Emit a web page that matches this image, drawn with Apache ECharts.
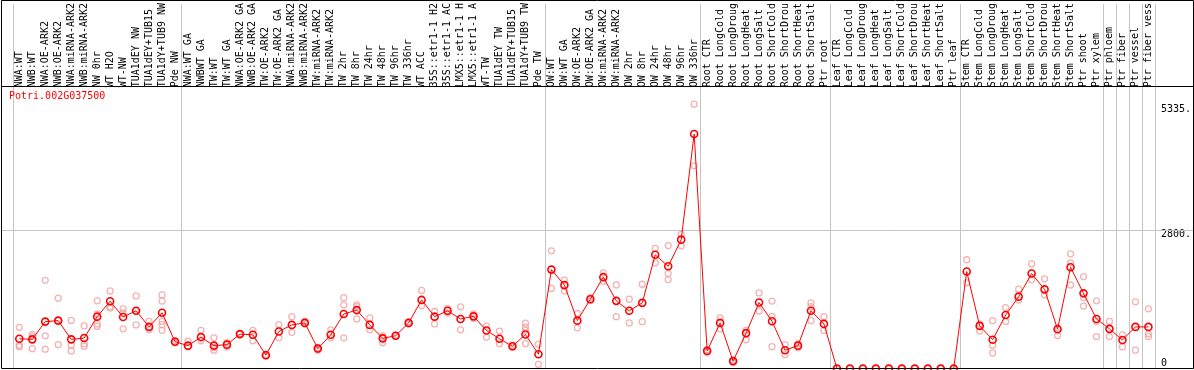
<!DOCTYPE html>
<html>
<head>
<meta charset="utf-8">
<title>Potri.002G037500</title>
<script src="https://cdn.jsdelivr.net/npm/echarts@6.0.0/dist/echarts.min.js"></script>
<style>
html, body { margin: 0; padding: 0; background: #fff; }
#chart { width: 1194px; height: 370px; }
</style>
</head>
<body>
<div id="chart"></div>
<script>
const geneName = 'Potri.002G037500'

const categories = [
  'NWA:WT', 'NWB:WT', 'NWA:OE-ARK2', 'NWB:OE-ARK2', 'NWA:miRNA-ARK2', 'NWB:miRNA-ARK2',
  'NW 0hr', 'WT H2O', 'WT-NW', 'TUA1dEY NW', 'TUA1dEY+TUB15', 'TUA1dY+TUB9 NW', 'Pde NW',
  'NWA:WT GA', 'NWBWT GA', 'TW:WT', 'TW:WT GA', 'NWA:OE-ARK2 GA', 'NWB:OE-ARK2 GA',
  'TW:OE-ARK2', 'TW:OE-ARK2 GA', 'NWA:miRNA-ARK2', 'NWB:miRNA-ARK2', 'TW:miRNA-ARK2',
  'TW:miRNA-ARK2', 'TW 2hr', 'TW 8hr', 'TW 24hr', 'TW 48hr', 'TW 96hr', 'TW 336hr',
  'WT ACC', '35S::etr1-1 H2', '35S::etr1-1 AC', 'LMX5::etr1-1 H', 'LMX5::etr1-1 A',
  'WT-TW', 'TUA1dEY TW', 'TUA1dEY+TUB15', 'TUA1dY+TUB9 TW', 'Pde TW',
  'OW:WT', 'OW:WT GA', 'OW:OE-ARK2', 'OW:OE-ARK2 GA', 'OW:miRNA-ARK2', 'OW:miRNA-ARK2',
  'OW 2hr', 'OW 8hr', 'OW 24hr', 'OW 48hr', 'OW 96hr', 'OW 336hr',
  'Root CTR', 'Root LongCold', 'Root LongDroug', 'Root LongHeat', 'Root LongSalt',
  'Root ShortCold', 'Root ShortDrou', 'Root ShortHeat', 'Root ShortSalt', 'Ptr root',
  'Leaf CTR', 'Leaf LongCold', 'Leaf LongDroug', 'Leaf LongHeat', 'Leaf LongSalt',
  'Leaf ShortCold', 'Leaf ShortDrou', 'Leaf ShortHeat', 'Leaf ShortSalt', 'Ptr leaf',
  'Stem CTR', 'Stem LongCold', 'Stem LongDroug', 'Stem LongHeat', 'Stem LongSalt',
  'Stem ShortCold', 'Stem ShortDrou', 'Stem ShortHeat', 'Stem ShortSalt', 'Ptr shoot',
  'Ptr xylem', 'Ptr phloem', 'Ptr fiber', 'Ptr vessel', 'Ptr fiber vess'
]

// samples per block, blocks are split by grey lines
const groupSizes = [13, 28, 12, 10, 10, 11, 1, 1, 1, 1]

const means = [
  600, 588, 946, 966, 588, 614, 1046, 1358, 1039, 1165, 840, 1125, 541,
  461, 634, 461, 481, 694, 680, 269, 747, 880, 920, 402, 680, 1099, 1179, 880,
  608, 661, 920, 1384, 1046, 1165, 1000, 1052, 767, 601, 448, 687, 289,
  1996, 1683, 966, 1398, 1843, 1365, 1165, 1325, 2295, 2062, 2600, 4731,
  355, 920, 149, 714, 1331, 953, 368, 461, 1165, 900,
  0, 0, 0, 0, 0, 0, 0, 0, 0, 0,
  1956, 860, 581, 1079, 1450, 1916, 1597, 793, 2042, 1517, 1000,
  800, 574, 840, 840
]

const replicates = [
  [830, 470, 440], [690, 650, 400], [1780, 660, 390], [1420, 970, 480], [970, 470, 355],
  [860, 500, 450], [1365, 1100, 900, 850], [1565, 1245, 1220], [1205, 1120, 800],
  [1465, 1165, 880], [950, 840, 780], [1485, 1360, 950, 885, 770], [560, 520],
  [550, 440], [770, 560], [620, 420, 370], [520, 435], [700, 690], [770, 560], [275, 255],
  [885, 620], [1045, 730], [950, 900], [420, 370], [780, 620], [1430, 1280, 620],
  [1285, 1250, 1000], [1020, 780], [660, 520], [670, 650], [940, 900], [1575, 1265],
  [1150, 900], [1210, 1120], [1245, 780], [1100, 1010], [855, 635], [755, 500], [470, 430],
  [915, 835, 770, 500], [490, 85],
  [2375, 1615], [1785, 1565], [1110, 820], [1430, 1370], [1930, 1760], [1685, 1045],
  [1400, 920], [1700, 945], [2425, 2130], [2480, 1915, 1795], [2705, 2475], [5335, 4090],
  [380, 330], [1020, 800], [170, 130], [775, 580], [1525, 1160], [1360, 1050, 440],
  [480, 280], [500, 420], [1325, 1250, 965], [1045, 765],
  [0, 0], [0, 0], [0, 0], [0, 0], [0, 0], [0, 0], [0, 0], [0, 0], [0, 0], [0, 0],
  [2195, 1730], [900, 755], [965, 470, 315], [1230, 950], [1600, 1380], [2115, 1790],
  [1810, 1485], [820, 665], [2315, 2130, 1685], [1855, 1430, 1260], [1365, 950, 645],
  [950, 645], [680, 435], [1345, 370], [1205, 700, 645]
]

const yTicks = [2800, 5335]
const gridLineValue = 2800

const font = 'DejaVu Sans Mono'

const groupStarts = []
let acc = 0
groupSizes.forEach(n => { groupStarts.push(acc); acc += n })

const repPoints = []
replicates.forEach((vals, i) => {
  vals.forEach(v => repPoints.push([i, v]))
})

const chart = echarts.init(document.getElementById('chart'))

const option = {
  animation: false,
  backgroundColor: '#ffffff',
  title: {
    text: geneName,
    left: 9,
    top: 91,
    padding: 0,
    textStyle: { color: '#ff0000', fontSize: 10, fontFamily: font, fontWeight: 'normal' }
  },
  grid: { left: 12.8, right: 37.2, top: 0, bottom: 1.5 },
  xAxis: {
    type: 'category',
    data: categories,
    position: 'top',
    offset: -86,
    boundaryGap: true,
    axisLine: { show: false },
    axisTick: { show: false },
    axisLabel: {
      interval: 0,
      rotate: 90,
      margin: 3,
      color: '#000',
      fontSize: 10,
      fontFamily: font
    },
    splitLine: {
      show: true,
      interval: idx => groupStarts.includes(idx),
      lineStyle: { color: '#c4c4c4', width: 1 }
    }
  },
  yAxis: [{
    type: 'value',
    position: 'right',
    min: 0,
    max: 7350,
    axisLine: { show: false },
    axisTick: { show: false },
    splitLine: { show: false },
    axisLabel: {
      customValues: yTicks,
      formatter: v => v + '.',
      verticalAlign: 'top',
      margin: 6,
      color: '#000',
      fontSize: 10,
      fontFamily: font
    }
  }, {
    // only the zero label, sitting above the bottom edge
    type: 'value',
    position: 'right',
    min: 0,
    max: 7350,
    axisLine: { show: false },
    axisTick: { show: false },
    splitLine: { show: false },
    axisLabel: {
      customValues: [0],
      verticalAlign: 'bottom',
      margin: 6,
      color: '#000',
      fontSize: 10,
      fontFamily: font
    }
  }],
  series: [{
    type: 'scatter',
    data: repPoints,
    symbol: 'circle',
    symbolSize: 6,
    clip: false,
    itemStyle: { color: 'rgba(0,0,0,0)', borderColor: '#f0a0a0', borderWidth: 1.3 },
    z: 2
  }, {
    type: 'line',
    data: means,
    symbol: 'circle',
    symbolSize: 7,
    showAllSymbol: true,
    clip: false,
    lineStyle: { color: '#ff0000', width: 1 },
    itemStyle: { color: 'rgba(0,0,0,0)', borderColor: '#ff0000', borderWidth: 1.6 },
    z: 3
  }]
}

chart.setOption(option)

const yLine = Math.round(chart.convertToPixel({ yAxisIndex: 0 }, gridLineValue)) + 0.5
chart.setOption({
  graphic: [{
    type: 'line',
    z: 1,
    shape: { x1: 1.5, y1: yLine, x2: 1193.5, y2: yLine },
    style: { stroke: '#c4c4c4', lineWidth: 1 }
  }, {
    type: 'line',
    z: 5,
    shape: { x1: 1.5, y1: 86.5, x2: 1193.5, y2: 86.5 },
    style: { stroke: '#000', lineWidth: 1 }
  }, {
    type: 'rect',
    z: 5,
    shape: { x: 1.5, y: 0.5, width: 1192, height: 368 },
    style: { fill: null, stroke: '#000', lineWidth: 1 }
  }]
})
</script>
</body>
</html>
